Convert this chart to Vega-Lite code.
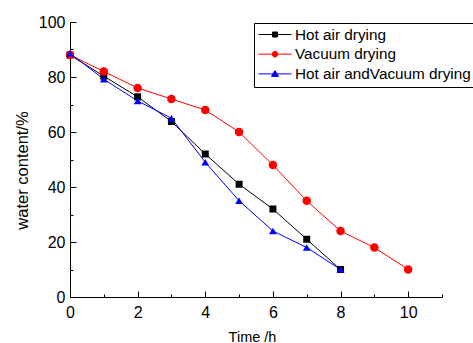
{
  "$schema": "https://vega.github.io/schema/vega-lite/v6.json",
  "width": 372,
  "height": 275,
  "autosize": {"type": "none"},
  "padding": {"left": 70, "top": 22, "right": 31, "bottom": 46},
  "config": {
    "view": {"stroke": null},
    "font": "Liberation Sans",
    "axis": {
      "grid": false,
      "domainColor": "#000000",
      "domainWidth": 1,
      "tickColor": "#000000",
      "tickWidth": 1,
      "labelFont": "Liberation Sans",
      "labelFontSize": 16,
      "labelColor": "#000000",
      "titleFont": "Liberation Sans",
      "titleFontWeight": "normal",
      "titleColor": "#000000"
    }
  },
  "data": {
    "values": [
      {"series": "Hot air drying", "t": 0, "w": 88},
      {"series": "Hot air drying", "t": 1, "w": 80.3},
      {"series": "Hot air drying", "t": 2, "w": 72.8},
      {"series": "Hot air drying", "t": 3, "w": 63.8},
      {"series": "Hot air drying", "t": 4, "w": 52},
      {"series": "Hot air drying", "t": 5, "w": 41},
      {"series": "Hot air drying", "t": 6, "w": 32},
      {"series": "Hot air drying", "t": 7, "w": 21},
      {"series": "Hot air drying", "t": 8, "w": 10},
      {"series": "Vacuum drying", "t": 0, "w": 88},
      {"series": "Vacuum drying", "t": 1, "w": 82},
      {"series": "Vacuum drying", "t": 2, "w": 76},
      {"series": "Vacuum drying", "t": 3, "w": 72},
      {"series": "Vacuum drying", "t": 4, "w": 68},
      {"series": "Vacuum drying", "t": 5, "w": 60},
      {"series": "Vacuum drying", "t": 6, "w": 48},
      {"series": "Vacuum drying", "t": 7, "w": 35},
      {"series": "Vacuum drying", "t": 8, "w": 24},
      {"series": "Vacuum drying", "t": 9, "w": 18},
      {"series": "Vacuum drying", "t": 10, "w": 10},
      {"series": "Hot air andVacuum drying", "t": 0, "w": 88.6},
      {"series": "Hot air andVacuum drying", "t": 1, "w": 79.2},
      {"series": "Hot air andVacuum drying", "t": 2, "w": 71.3},
      {"series": "Hot air andVacuum drying", "t": 3, "w": 65},
      {"series": "Hot air andVacuum drying", "t": 4, "w": 49},
      {"series": "Hot air andVacuum drying", "t": 5, "w": 35},
      {"series": "Hot air andVacuum drying", "t": 6, "w": 24},
      {"series": "Hot air andVacuum drying", "t": 7, "w": 18},
      {"series": "Hot air andVacuum drying", "t": 8, "w": 10}
    ]
  },
  "encoding": {
    "x": {
      "field": "t",
      "type": "quantitative",
      "scale": {"domain": [0, 11], "nice": false, "zero": false},
      "axis": {
        "title": "Time /h",
        "titleFontSize": 14.5,
        "titleX": 182,
        "values": [0, 1, 2, 3, 4, 5, 6, 7, 8, 9, 10, 11],
        "labelExpr": "datum.value % 2 == 0 && datum.value < 11 ? datum.label : ''",
        "tickSize": {"condition": {"test": "datum.value % 2 == 0", "value": -6}, "value": -3},
        "labelPadding": 13,
        "labelFlush": false,
        "titlePadding": 10
      }
    },
    "y": {
      "field": "w",
      "type": "quantitative",
      "scale": {"domain": [0, 100], "nice": false},
      "axis": {
        "title": "water content/%",
        "titleFontSize": 16.5,
        "titleY": 148,
        "values": [0, 10, 20, 30, 40, 50, 60, 70, 80, 90, 100],
        "labelExpr": "datum.value % 20 == 0 ? datum.label : ''",
        "tickSize": {"condition": {"test": "datum.value % 20 == 0", "value": -6}, "value": -3},
        "labelPadding": 11,
        "labelFlush": false,
        "titlePadding": 8
      }
    }
  },
  "layer": [
    {
      "mark": {"type": "line", "strokeWidth": 1},
      "encoding": {
        "color": {
          "field": "series",
          "type": "nominal",
          "scale": {
            "domain": ["Hot air drying", "Vacuum drying", "Hot air andVacuum drying"],
            "range": ["#000000", "#ff0000", "#0000ff"]
          },
          "legend": {
            "title": null,
            "orient": "none",
            "legendX": 184,
            "legendY": 1,
            "strokeColor": "#000000",
            "fillColor": "#ffffff",
            "padding": 4,
            "rowPadding": 3.7,
            "clipHeight": 15,
            "labelFont": "Liberation Sans",
            "labelFontSize": 15.3,
            "labelColor": "#000000",
            "labelLimit": 300,
            "labelOffset": 3,
            "symbolSize": 1089,
            "symbolStrokeWidth": 1,
            "encode": {
              "symbols": {
                "update": {
                  "x": {"value": 17},
                  "shape": {"signal": "datum.value == 'Hot air drying' ? 'M-1,0H1M-0.15,-0.15H0.15V0.15H-0.15Z' : datum.value == 'Vacuum drying' ? 'M-1,0H1M-0.17,0A0.17,0.17,0,1,1,0.17,0A0.17,0.17,0,1,1,-0.17,0Z' : 'M-1,0H1M0,-0.2L0.21,0.15L-0.21,0.15Z'"},
                  "fill": {"signal": "datum.value == 'Hot air drying' ? '#000000' : datum.value == 'Vacuum drying' ? '#ff0000' : '#0000ff'"},
                  "stroke": {"signal": "datum.value == 'Hot air drying' ? '#000000' : datum.value == 'Vacuum drying' ? '#ff0000' : '#0000ff'"},
                  "fillOpacity": {"value": 1},
                  "strokeOpacity": {"value": 1},
                  "strokeWidth": {"value": 1},
                  "size": {"value": 1089},
                  "opacity": {"value": 1}
                }
              }
            }
          }
        }
      }
    },
    {
      "mark": {"type": "point", "filled": true, "opacity": 1},
      "encoding": {
        "fill": {
          "field": "series",
          "type": "nominal",
          "scale": {
            "domain": ["Vacuum drying", "Hot air drying", "Hot air andVacuum drying"],
            "range": ["#ff0000", "#000000", "#0000ff"]
          },
          "legend": null
        },
        "shape": {
          "field": "series",
          "type": "nominal",
          "scale": {
            "domain": ["Hot air andVacuum drying", "Hot air drying", "Vacuum drying"],
            "range": ["triangle-up", "square", "circle"]
          },
          "legend": null
        },
        "size": {
          "field": "series",
          "type": "nominal",
          "scale": {
            "domain": ["Hot air drying", "Hot air andVacuum drying", "Vacuum drying"],
            "range": [49, 72, 60]
          },
          "legend": null
        }
      }
    }
  ]
}
